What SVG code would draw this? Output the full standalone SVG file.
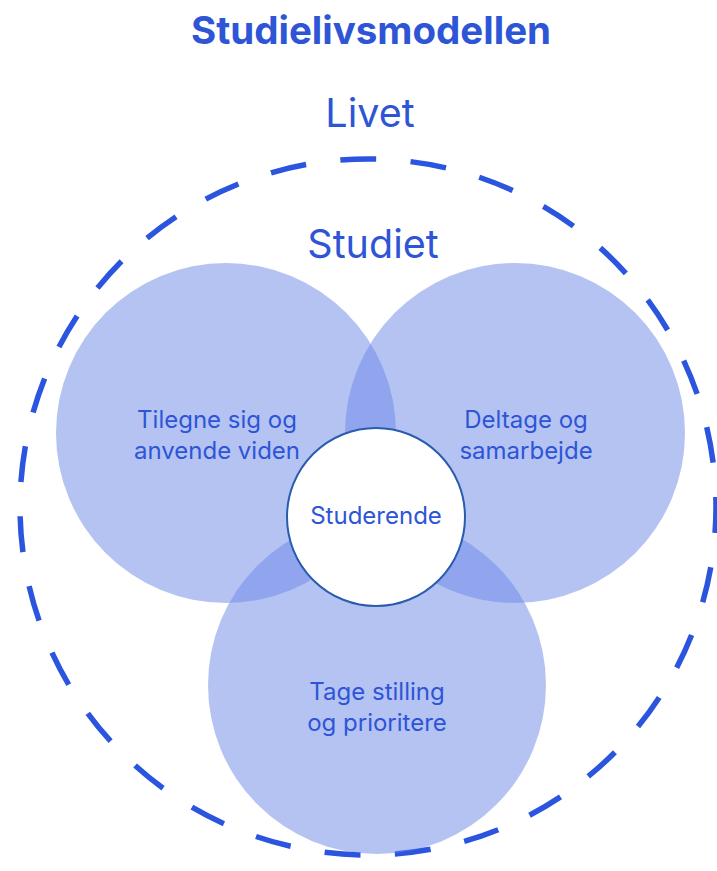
<svg xmlns="http://www.w3.org/2000/svg" width="717" height="871" viewBox="0 0 717 871">
  <style>
    .txt { font-family: "Inter", "Lato", "Liberation Sans", sans-serif; fill: #2d55d6; text-anchor: middle; }
    .title { font-size: 38.5px; font-weight: 700; }
    .big { font-size: 39.5px; font-weight: 400; }
    .lbl { font-size: 24px; font-weight: 400; }
    .petal { fill: #6b87e7; fill-opacity: 0.5; }
    .outer { fill: none; stroke: #2b55de; stroke-width: 5.5; stroke-dasharray: 36 34.5; }
    .core { fill: #ffffff; stroke: #2a5cae; stroke-width: 2; }
  </style>
  <rect width="717" height="871" fill="#ffffff"/>

  <text class="txt title" x="371" y="44">Studielivsmodellen</text>

  <g id="livet">
    <circle class="outer" cx="368" cy="507" r="348" stroke-dashoffset="10"/>
    <text class="txt big" x="370" y="127">Livet</text>
  </g>

  <g id="studiet">
    <text class="txt big" x="373" y="258">Studiet</text>
  </g>

  <g id="viden">
    <circle class="petal" cx="226" cy="433" r="170"/>
    <text class="txt lbl" x="217" y="428">Tilegne sig og</text>
    <text class="txt lbl" x="217" y="459">anvende viden</text>
  </g>

  <g id="samarbejde">
    <circle class="petal" cx="515" cy="433" r="170"/>
    <text class="txt lbl" x="526" y="428">Deltage og</text>
    <text class="txt lbl" x="526" y="459">samarbejde</text>
  </g>

  <g id="prioritere">
    <circle class="petal" cx="377" cy="685" r="169"/>
    <text class="txt lbl" x="377" y="700">Tage stilling</text>
    <text class="txt lbl" x="377" y="731">og prioritere</text>
  </g>

  <g id="studerende">
    <circle class="core" cx="376" cy="517" r="89"/>
    <text class="txt lbl" x="376" y="524">Studerende</text>
  </g>
</svg>
